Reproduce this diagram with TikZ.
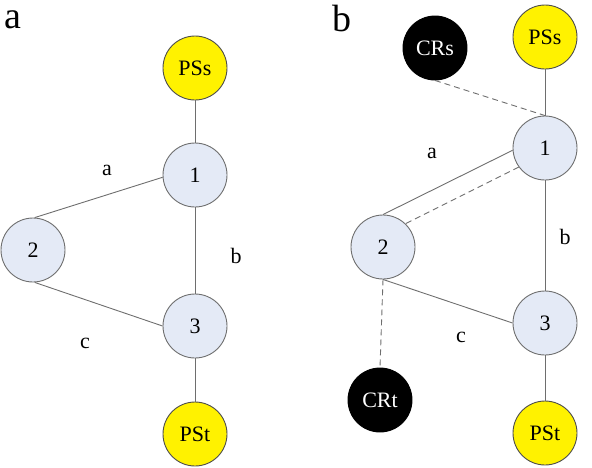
\documentclass[tikz,border=0pt]{standalone}
\usepackage{fontspec}
\setmainfont{Liberation Serif}
\usepackage{tikz}
\definecolor{nodeblue}{RGB}{228,234,246}
\definecolor{edgegray}{RGB}{110,110,110}

\begin{document}
\begin{tikzpicture}[x=1pt, y=-1pt,
            every node/.style={circle, draw=edgegray, line width=0.9pt, minimum size=64pt, inner sep=0pt, font=\fontsize{22}{26}\selectfont}, % circles for all nodes
            router/.style={fill=nodeblue},
            pseudo/.style={fill=yellow, draw=black!70},
            core/.style={fill=black, draw=black, text=white},
            lbl/.style={draw=none, fill=none, minimum size=0pt, inner sep=1pt},
            panel/.style={lbl, font=\fontsize{38}{40}\selectfont},
            link/.style={draw=edgegray, line width=0.9pt},
            backup/.style={link, dash pattern=on 6pt off 4pt}
            ]
        \useasboundingbox (0,0) rectangle (592,467);

                % panel a
                \node[panel] (ta) at (13,20) {a};
                \node[pseudo] (pss) at (195,68) {PSs};
                \node[router] (r1) at (195,175) {1};
                \node[router] (r2) at (33,250) {2};
                \node[router] (r3) at (195,326) {3};
                \node[pseudo] (pst) at (195,434) {PSt};

                \draw[link] (pss) -- (r1);
                \draw[link] (r1) -- (r3);
                \draw[link] (r3) -- (pst);
                \draw[link] (r1.184) -- (r2.87);
                \draw[link] (r2.273) -- (r3.180);

                \node[lbl] (la) at (107,170) {a};
                \node[lbl] (lb) at (236,256) {b};
                \node[lbl] (lc) at (85,343) {c};

                % panel b
                \node[panel] (tb) at (342,18) {b};
                \node[pseudo] (pssb) at (545,37) {PSs};
                \node[core] (crs) at (435,48) {CRs};
                \node[router] (r1b) at (545,148) {1};
                \node[router] (r2b) at (383,247) {2};
                \node[router] (r3b) at (545,323) {3};
                \node[pseudo] (pstb) at (545,433) {PSt};
                \node[core] (crt) at (380,400) {CRt};

                \draw[link] (pssb) -- (r1b);
                \draw[link] (r1b) -- (r3b);
                \draw[link] (r3b) -- (pstb);
                \draw[link] (r1b.184) -- (r2b.90);
                \draw[link] (r2b.270) -- (r3b.180);
                \draw[backup] (crs.south) -- (r1b.north);
                \draw[backup] (r1b.216) -- (r2b.46);
                \draw[backup] (r2b.270) -- (crt.north);

                \node[lbl] (lab) at (432,153) {a};
                \node[lbl] (lbb) at (565,237) {b};
                \node[lbl] (lcb) at (461,337) {c};

\end{tikzpicture}
\end{document}
